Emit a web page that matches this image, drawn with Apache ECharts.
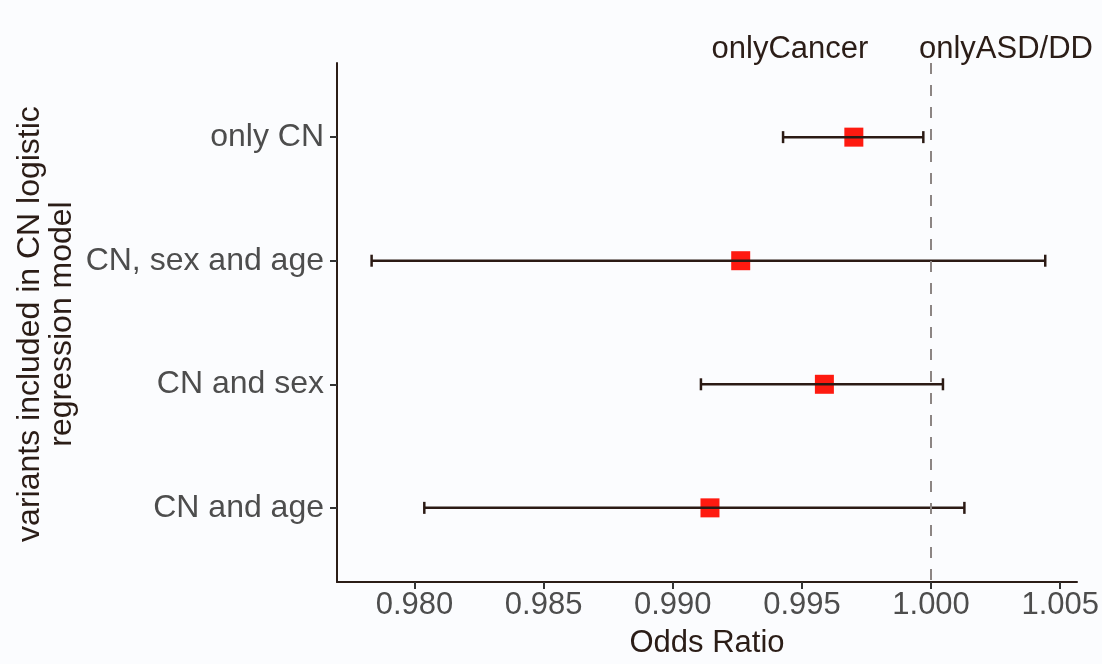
<!DOCTYPE html>
<html>
<head>
<meta charset="utf-8">
<script src="https://cdn.jsdelivr.net/npm/echarts@6/dist/echarts.min.js"></script>
<style>
html,body{margin:0;padding:0;background:#fbfcfe;}
#c{width:1102px;height:664px;}
</style>
</head>
<body>
<div id="c"></div>
<script>
// ---- data ----
const categories = ['only CN', 'CN, sex and age', 'CN and sex', 'CN and age'];
const oddsRatio = [0.99701, 0.99263, 0.99587, 0.99144];
const ciLower   = [0.99427, 0.97834, 0.99109, 0.98038];
const ciUpper   = [0.99970, 1.00442, 1.00046, 1.00129];
const xTicks = [0.980, 0.985, 0.990, 0.995, 1.000, 1.005];
const xTickLabels = ['0.980', '0.985', '0.990', '0.995', '1.000', '1.005'];
const refLine = 1.000;
const annotations = ['onlyCancer', 'onlyASD/DD'];
const xTitle = 'Odds Ratio';
const yTitle = 'variants included in CN logistic\nregression model';

const FONT = '"Liberation Sans", Arial, Helvetica, sans-serif';
const DARK = '#2b1d17';
const GREY = '#4d4d4d';

const idx = categories.map((_, i) => i);
const pointData = idx.map(i => [oddsRatio[i], i]);
const barData = idx.map(i => [ciLower[i], ciUpper[i], i]);

const chart = echarts.init(document.getElementById('c'));
chart.setOption({
  backgroundColor: '#fbfcfe',
  animation: false,
  grid: { left: 337, right: 19, top: 63, bottom: 79, containLabel: false },
  xAxis: {
    type: 'value',
    min: 0.977, max: 1.00565,
    splitLine: { show: false },
    axisLine: { show: true, onZero: false, lineStyle: { color: DARK, width: 2 } },
    axisTick: { show: true, customValues: xTicks, length: 7, lineStyle: { color: '#333', width: 2 } },
    axisLabel: {
      customValues: xTicks,
      formatter: v => xTickLabels[xTicks.findIndex(t => Math.abs(t - v) < 1e-9)] || '',
      color: GREY, fontSize: 31, fontFamily: FONT, margin: 8
    },
    name: xTitle, nameLocation: 'middle', nameGap: 46,
    nameTextStyle: { color: DARK, fontSize: 31, fontFamily: FONT }
  },
  yAxis: {
    type: 'value',
    min: -0.6, max: 3.6, inverse: true,
    splitLine: { show: false },
    axisLine: { show: true, onZero: false, lineStyle: { color: DARK, width: 2 } },
    axisTick: { show: true, customValues: idx, length: 7, lineStyle: { color: '#333', width: 2 } },
    axisLabel: {
      customValues: idx,
      formatter: v => categories[Math.round(v)] || '',
      color: GREY, fontSize: 32, fontFamily: FONT, margin: 13
    }
  },
  graphic: [
    {
      type: 'text', x: 46, y: 324, rotation: Math.PI / 2,
      style: { text: yTitle, fill: DARK, font: '32px ' + FONT, align: 'center', verticalAlign: 'middle', lineHeight: 32 }
    },
    {
      type: 'text', x: 790, y: 49,
      style: { text: annotations[0], fill: DARK, font: '31px ' + FONT, align: 'center', verticalAlign: 'middle' }
    },
    {
      type: 'text', x: 1006, y: 49,
      style: { text: annotations[1], fill: DARK, font: '31px ' + FONT, align: 'center', verticalAlign: 'middle' }
    }
  ],
  series: [
    {
      type: 'scatter',
      data: pointData,
      symbol: 'rect',
      symbolSize: 19,
      itemStyle: { color: '#fe1a10', opacity: 1 },
      z: 2,
      markLine: {
        silent: true, symbol: 'none',
        label: { show: false },
        lineStyle: { color: '#8c8583', width: 2, type: [11, 11] },
        data: [{ xAxis: refLine }]
      }
    },
    {
      type: 'custom',
      data: barData,
      z: 3,
      renderItem: function (params, api) {
        const lo = api.coord([api.value(0), api.value(2)]);
        const hi = api.coord([api.value(1), api.value(2)]);
        const h = 6;
        const st = { stroke: '#2b1a14', lineWidth: 2.5 };
        return {
          type: 'group',
          children: [
            { type: 'line', shape: { x1: lo[0], y1: lo[1], x2: hi[0], y2: hi[1] }, style: st },
            { type: 'line', shape: { x1: lo[0], y1: lo[1] - h, x2: lo[0], y2: lo[1] + h }, style: st },
            { type: 'line', shape: { x1: hi[0], y1: hi[1] - h, x2: hi[0], y2: hi[1] + h }, style: st }
          ]
        };
      }
    }
  ]
});
</script>
</body>
</html>
